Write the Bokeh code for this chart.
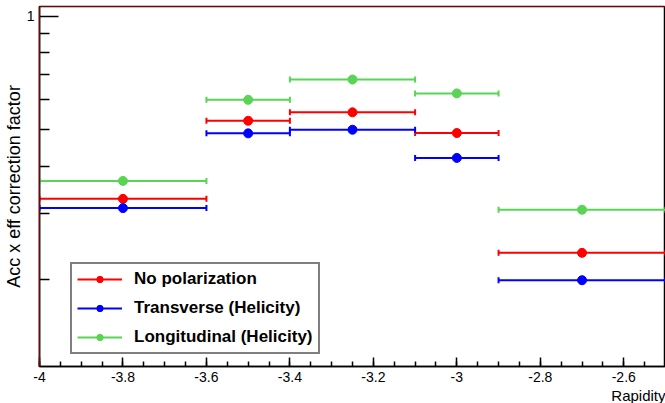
import numpy as np
from bokeh.plotting import figure
from bokeh.models import (Range1d, FixedTicker, Legend, LegendItem, Span,
                          ColumnDataSource, Title)
from bokeh.embed import file_html
from bokeh.resources import INLINE

# ---- data ----
bin_center = [-3.8, -3.5, -3.25, -3.0, -2.7]
bin_low = [-4.0, -3.6, -3.4, -3.1, -2.9]
bin_high = [-3.6, -3.4, -3.1, -2.9, -2.5]

no_polarization = [0.328, 0.528, 0.556, 0.490, 0.236]
transverse = [0.310, 0.489, 0.500, 0.421, 0.1997]
longitudinal = [0.366, 0.600, 0.679, 0.624, 0.307]

series_names = ["No polarization", "Transverse (Helicity)", "Longitudinal (Helicity)"]
series_colors = ["#ff0000", "#0000ff", "#59d454"]

x_ticks = [-4, -3.8, -3.6, -3.4, -3.2, -3, -2.8, -2.6]
x_tick_labels = ["-4", "-3.8", "-3.6", "-3.4", "-3.2", "-3", "-2.8", "-2.6"]
y_ticks = [1]
y_tick_labels = ["1"]
y_minor_ticks = [0.2, 0.3, 0.4, 0.5, 0.6, 0.7, 0.8, 0.9]

x_start, x_end = -4.0, -2.5
y_start, y_end = 0.118, 1.06

FONT = "Liberation Sans"

p = figure(width=665, height=403,
           x_range=Range1d(x_start, x_end), y_range=Range1d(y_start, y_end),
           y_axis_type="log", output_backend="svg", toolbar_location=None,
           min_border_top=6, min_border_right=0, min_border_left=0,
           min_border_bottom=0)
p.background_fill_color = "white"
p.border_fill_color = "white"
p.outline_line_color = "black"
p.outline_line_width = 1.5
p.xgrid.visible = False
p.ygrid.visible = False

# red frame lines (drawn by the first histogram in the original)
p.add_layout(Span(location=y_end, dimension="width", line_color="red", line_width=1))
p.add_layout(Span(location=x_start, dimension="height", line_color="red", line_width=1))

# ---- x axis ----
xa = p.xaxis[0]
minor_x = [round(v, 3) for v in np.arange(x_start, x_end + 1e-9, 0.05)]
xa.ticker = FixedTicker(ticks=x_ticks, minor_ticks=minor_x)
xa.major_label_overrides = {t: l for t, l in zip(x_ticks, x_tick_labels)}
xa.major_tick_in = 9
xa.major_tick_out = 0
xa.minor_tick_in = 5
xa.minor_tick_out = 0
xa.axis_line_color = "black"
xa.axis_line_width = 1.5
xa.major_tick_line_width = 1.5
xa.minor_tick_line_width = 1.5
xa.major_label_text_font = FONT
xa.major_label_text_font_size = "14px"
xa.major_label_text_color = "black"
xa.major_label_standoff = 5

# x-axis title, right aligned below the tick labels
p.add_layout(Title(text="Rapidity", align="right", text_font=FONT,
                   text_font_size="15px", text_font_style="normal",
                   text_color="black", standoff=0, offset=0), "below")

# ---- y axis ----
ya = p.yaxis[0]
ya.ticker = FixedTicker(ticks=y_ticks, minor_ticks=y_minor_ticks)
ya.major_label_overrides = {t: l for t, l in zip(y_ticks, y_tick_labels)}
ya.major_tick_in = 19
ya.major_tick_out = 0
ya.minor_tick_in = 10
ya.minor_tick_out = 0
ya.axis_line_color = "black"
ya.axis_line_width = 1.5
ya.major_tick_line_width = 1.5
ya.minor_tick_line_width = 1.5
ya.major_label_text_font = FONT
ya.major_label_text_font_size = "14px"
ya.major_label_text_color = "black"
ya.major_label_standoff = 5
ya.axis_label = "Acc x eff correction factor"
ya.axis_label_text_font = FONT
ya.axis_label_text_font_style = "normal"
ya.axis_label_text_font_size = "18px"
ya.axis_label_text_color = "black"
ya.axis_label_standoff = 0

# ---- series ----
legend_items = []
for name, color, vals in zip(series_names, series_colors,
                             [no_polarization, transverse, longitudinal]):
    src = ColumnDataSource(dict(xc=bin_center, xl=bin_low, xh=bin_high, y=vals))
    seg = p.segment(x0="xl", y0="y", x1="xh", y1="y", source=src,
                    line_color=color, line_width=2)
    p.scatter(x="xl", y="y", source=src, marker="dash", angle=np.pi / 2,
              size=6, line_color=color, line_width=2)
    p.scatter(x="xh", y="y", source=src, marker="dash", angle=np.pi / 2,
              size=6, line_color=color, line_width=2)
    dot = p.scatter(x="xc", y="y", source=src, marker="circle", size=9,
                    fill_color=color, line_color=color)
    legend_items.append(LegendItem(label=name, renderers=[seg, dot]))

legend = Legend(items=legend_items, location=(31, 12))
legend.label_text_font = FONT
legend.label_text_font_style = "bold"
legend.label_text_font_size = "17px"
legend.label_text_color = "black"
legend.glyph_width = 45
legend.glyph_height = 16
legend.label_height = 16
legend.spacing = 9
legend.padding = 5
legend.label_standoff = 12
legend.border_line_color = "black"
legend.border_line_width = 2
legend.background_fill_color = "white"
legend.background_fill_alpha = 1.0
p.add_layout(legend)

open("out.html", "w").write(file_html(p, INLINE))
